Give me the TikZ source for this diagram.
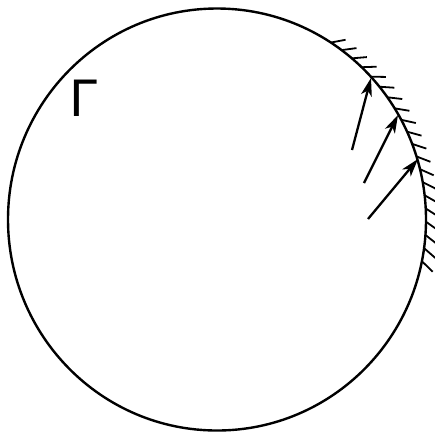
\documentclass[tikz,border=0pt]{standalone}
\usepackage{fontspec}
\newfontfamily\gammafont{DejaVu Sans}
\usetikzlibrary{arrows.meta,calc}
\begin{document}
\begin{tikzpicture}[x=1pt,y=-1pt,
  boundary/.style={line width=2.4pt},
  hatchline/.style={line width=1.8pt},
  flowarrow/.style={line width=2.3pt,-{Stealth[length=18pt,width=11pt,inset=5pt]}},
  labeltext/.style={inner sep=0pt,anchor=north west,font=\gammafont\fontsize{50}{50}\selectfont}]
\useasboundingbox (0,0) rectangle (435,432);
% boundary curve
\draw[boundary] (217,219.5) ellipse [x radius=209pt, y radius=211pt];
% hatching on the outside of the upper right arc
\foreach \i in {0,...,19}{
  \pgfmathsetmacro{\t}{57-3.6*\i}
  \pgfmathsetmacro{\p}{0.8*\t-35}
  \coordinate (h\i) at ({217+209*cos(\t)},{219.5-211*sin(\t)});
  \coordinate (g\i) at ($(h\i)+({15*cos(\p)},{-15*sin(\p)})$);
  \draw[hatchline] (h\i) -- (g\i);
}
% arrows
\coordinate (a1) at (352,150); \coordinate (b1) at (371,78);
\coordinate (a2) at (364,183); \coordinate (b2) at (398,115);
\coordinate (a3) at (368,219); \coordinate (b3) at (418,159);
\draw[flowarrow] (a1) -- (b1);
\draw[flowarrow] (a2) -- (b2);
\draw[flowarrow] (a3) -- (b3);
% label
\node[labeltext] (G) at (69,80) {Γ};
\end{tikzpicture}
\end{document}
